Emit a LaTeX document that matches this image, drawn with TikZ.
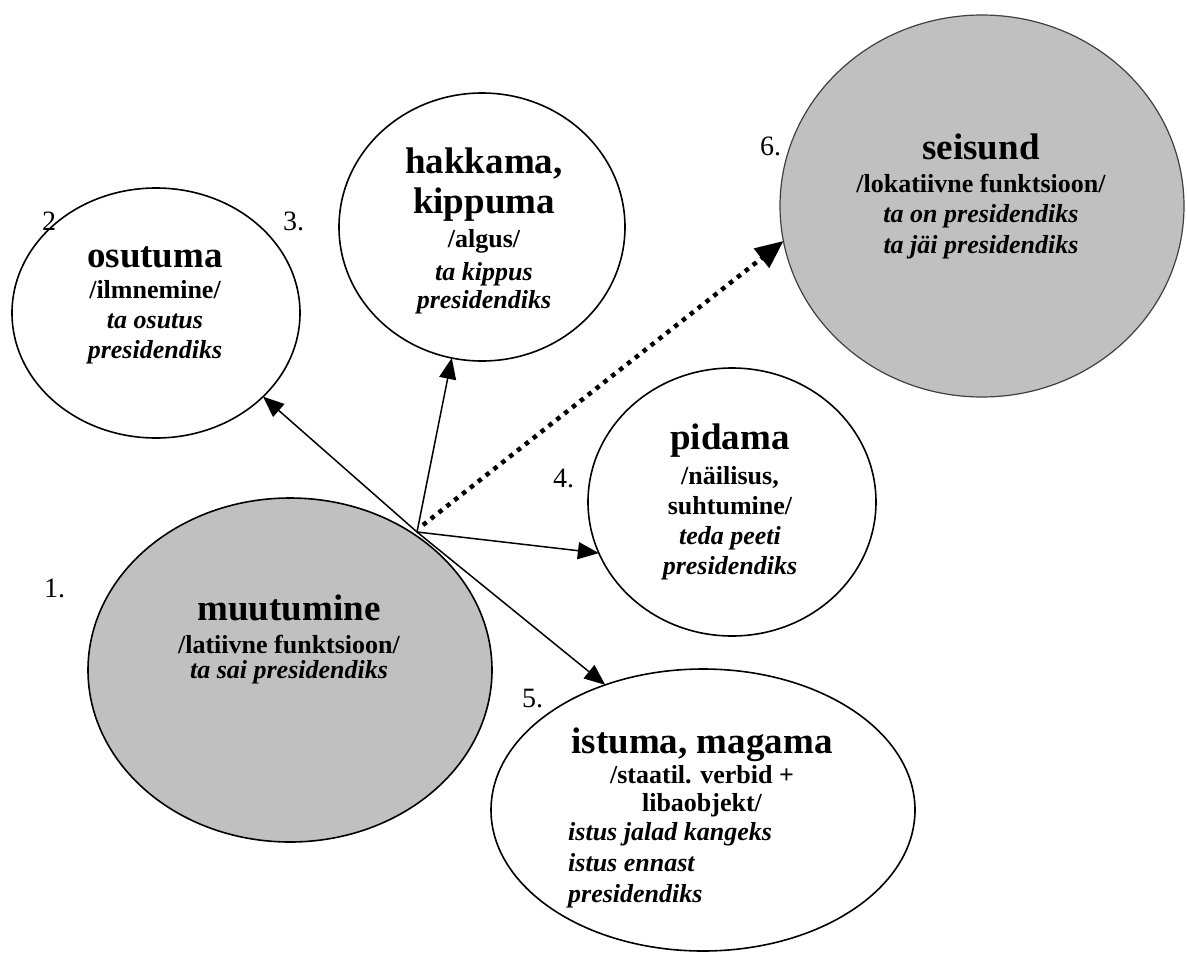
\documentclass[tikz,border=0pt]{standalone}
\usepackage{fontspec}
\setmainfont{Liberation Serif}
\usetikzlibrary{arrows.meta,shapes.geometric}
\definecolor{fillgray}{HTML}{C0C0C0}
\begin{document}
\begin{tikzpicture}[x=1pt,y=-1pt,
  bubble/.style={ellipse,draw=black,line width=1.6pt,fill=white,inner sep=0pt,outer sep=0pt},
  title/.style={anchor=base,inner sep=0pt,font=\fontsize{37}{40}\selectfont\bfseries},
  sub/.style={anchor=base,inner sep=0pt,font=\fontsize{26}{30}\selectfont\bfseries},
  ex/.style={anchor=base,inner sep=0pt,font=\fontsize{26}{30}\selectfont\bfseries\itshape},
  num/.style={anchor=base west,inner sep=0pt,font=\fontsize{28}{30}\selectfont},
  link/.style={line width=1.5pt,-{Triangle[length=21pt,width=17pt]}},
  dotlink/.style={line width=4.5pt,dash pattern=on 4.5pt off 5.5pt,-{Triangle[length=28pt,width=24pt]}}
]
% page
\fill[white] (0,0) rectangle (1187,954);
\path[use as bounding box] (0,0) rectangle (1187,954);

% bubbles
\node[bubble,minimum width=288pt,minimum height=250pt] (osutuma) at (156,313) {};
\node[bubble,minimum width=286pt,minimum height=268pt] (hakkama) at (482,227) {};
\node[bubble,fill=fillgray,draw=black!75,line width=1.2pt,minimum width=404pt,minimum height=382pt] (seisund) at (982,206) {};
\node[bubble,minimum width=288pt,minimum height=268pt] (pidama) at (732,502) {};
\node[bubble,fill=fillgray,minimum width=404pt,minimum height=344pt] (muutumine) at (290,670) {};
\node[bubble,minimum width=424pt,minimum height=282pt] (istuma) at (703,810) {};

% numbering
\node[num] (n1) at (44,597) {1.};
\node[num] (n2) at (42,230) {2};
\node[num] (n3) at (283,230) {3.};
\node[num] (n4) at (553,487) {4.};
\node[num] (n5) at (522,707) {5.};
\node[num] (n6) at (760,155) {6.};

% 6. seisund
\node[title] (t6a) at (981,159) {seisund};
\node[sub]   (t6b) at (981,192) {/lokatiivne funktsioon/};
\node[ex]    (t6c) at (981,222) {ta on presidendiks};
\node[ex]    (t6d) at (981,253) {ta jäi presidendiks};

% 1. muutumine
\node[title] (t1a) at (289,620) {muutumine};
\node[sub]   (t1b) at (289,653) {/latiivne funktsioon/};
\node[ex]    (t1c) at (289,678) {ta sai presidendiks};

% 4. pidama
\node[title] (t4a) at (730,449) {pidama};
\node[sub]   (t4b) at (730,484) {/näilisus,};
\node[sub]   (t4c) at (730,514) {suhtumine/};
\node[ex]    (t4d) at (730,544) {teda peeti};
\node[ex]    (t4e) at (730,574) {presidendiks};

% 2. osutuma
\node[title] (t2a) at (155,267) {osutuma};
\node[sub]   (t2b) at (155,298) {/ilmnemine/};
\node[ex]    (t2c) at (155,328) {ta osutus};
\node[ex]    (t2d) at (155,358) {presidendiks};

% 3. hakkama, kippuma
\node[title] (t3a) at (484,173) {hakkama,};
\node[title] (t3b) at (484,213) {kippuma};
\node[sub]   (t3c) at (484,247) {/algus/};
\node[ex]    (t3d) at (484,280) {ta kippus};
\node[ex]    (t3e) at (484,308) {presidendiks};

% 5. istuma, magama
\node[title] (t5a) at (702,753) {istuma, magama};
\node[sub]   (t5b) at (702,783) {/staatil. verbid +};
\node[sub]   (t5c) at (702,811) {libaobjekt/};
\node[ex,anchor=base west] (t5d) at (568,840) {istus jalad kangeks};
\node[ex,anchor=base west] (t5e) at (568,871) {istus ennast};
\node[ex,anchor=base west] (t5f) at (568,902) {presidendiks};

% connectors
\coordinate (src) at (417,532);
\coordinate (dotsrc) at (423,525);
\draw[link] (src) -- (osutuma.-38.5);
\draw[link] (src) -- (hakkama.257.5);
\draw[link] (src) -- (pidama.201.1);
\draw[link] (src) -- (istuma.128.7);
\draw[dotlink] (dotsrc) -- (seisund.190.5);
\end{tikzpicture}
\end{document}
